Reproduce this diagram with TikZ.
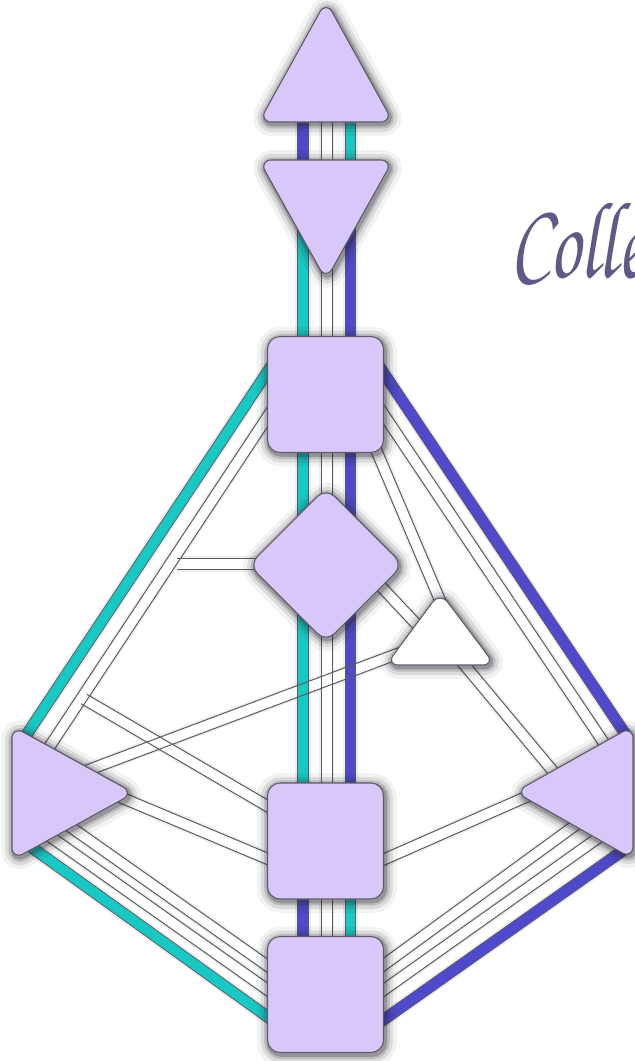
\documentclass[tikz,border=0pt]{standalone}
\usepackage{fontspec}
\usetikzlibrary{calc,shapes.geometric}
\newfontfamily\scriptf{texgyrechorus-mediumitalic.otf}
\definecolor{lav}{HTML}{D8C8F9}
\definecolor{bord}{HTML}{5F5A6A}
\definecolor{tealc}{HTML}{17C8C3}
\definecolor{indc}{HTML}{4F4ACB}
\definecolor{wedgec}{HTML}{5C5C5C}
\definecolor{shadowc}{HTML}{262630}
\definecolor{scriptc}{HTML}{5D5A87}
\def\hw{4.125pt}
\begin{document}
\begin{tikzpicture}[x=0.75pt,y=-0.75pt,
  glow/.style={
    preaction={draw=shadowc, draw opacity=.06, line width=18pt, transform canvas={shift={(1pt,-1.5pt)}}},
    preaction={draw=shadowc, draw opacity=.11, line width=12pt, transform canvas={shift={(1pt,-1.5pt)}}},
    preaction={draw=shadowc, draw opacity=.17, line width=7pt, transform canvas={shift={(1pt,-1.5pt)}}},
    preaction={draw=shadowc, draw opacity=.26, line width=3.5pt, transform canvas={shift={(1pt,-1.5pt)}}}},
  ctr/.style={fill=lav, draw=bord, line width=0.8pt, rounded corners=9.5pt},
  sq/.style={ctr, rectangle, minimum width=87pt, minimum height=87pt, inner sep=0pt},
  dia/.style={ctr, diamond, minimum width=116pt, minimum height=116pt, inner sep=0pt, rounded corners=9pt},
  chglowst/.style={draw=shadowc, draw opacity=.07, line width=11.5pt},
  wband/.style={draw=white, line width=8.25pt},
  wedge/.style={draw=wedgec, line width=0.75pt},
  tch/.style={draw=bord, line width=0.7pt, double=tealc, double distance=7.4pt},
  ich/.style={draw=bord, line width=0.7pt, double=indc, double distance=7.4pt}]
\useasboundingbox (0,0) rectangle (635,1061);
\clip (0,0) rectangle (635,1061);
\fill[white] (0,0) rectangle (635,1061);

% ---- channel end points ----
\coordinate (ha1) at (303,110);   \coordinate (ha2) at (303,170);
\coordinate (ha3) at (326.5,110); \coordinate (ha4) at (326.5,170);
\coordinate (ha5) at (350.5,110); \coordinate (ha6) at (350.5,170);
\coordinate (at1) at (303,225);   \coordinate (at2) at (303,345);
\coordinate (at3) at (326.5,250); \coordinate (at4) at (326.5,345);
\coordinate (at5) at (350.5,225); \coordinate (at6) at (350.5,345);
\coordinate (tg1) at (303,445);   \coordinate (tg2) at (303,530);
\coordinate (tg3) at (326.5,445); \coordinate (tg4) at (326.5,505);
\coordinate (tg5) at (350.5,445); \coordinate (tg6) at (350.5,530);
\coordinate (gs1) at (303,600);   \coordinate (gs2) at (303,790);
\coordinate (gs3) at (326.5,625); \coordinate (gs4) at (326.5,790);
\coordinate (gs5) at (350.5,600); \coordinate (gs6) at (350.5,790);
\coordinate (sr1) at (303,890);   \coordinate (sr2) at (303,942);
\coordinate (sr3) at (326.5,890); \coordinate (sr4) at (326.5,942);
\coordinate (sr5) at (350.5,890); \coordinate (sr6) at (350.5,942);
% left side
\coordinate (tsT1) at (274,362);  \coordinate (tsT2) at (23,740);
\coordinate (tsW1) at (272,410);  \coordinate (tsW2) at (42,758);
\coordinate (gsp1) at (265,564);  \coordinate (gsp2) at (177,564);
\coordinate (sw1) at (84,699);    \coordinate (sw2) at (274,810);
\coordinate (spH1) at (75,775);   \coordinate (spH2) at (405,651);
\coordinate (spS1) at (120,797);  \coordinate (spS2) at (275,862);
\coordinate (spR1) at (20,839);   \coordinate (spR2) at (272,1020);
\coordinate (swrA1) at (45,833);  \coordinate (swrA2) at (272,993);
\coordinate (swrB1) at (62,821);  \coordinate (swrB2) at (272,969);
% right side
\coordinate (tspI1) at (377,363); \coordinate (tspI2) at (628,738);
\coordinate (tspW1) at (378,406); \coordinate (tspW2) at (610,752);
\coordinate (thH1) at (374,445);  \coordinate (thH2) at (442,605);
\coordinate (gH1) at (375,580);   \coordinate (gH2) at (420,628);
\coordinate (hsp1) at (462,662);  \coordinate (hsp2) at (562,782);
\coordinate (spsc1) at (535,793); \coordinate (spsc2) at (378,862);
\coordinate (spRI1) at (628,847); \coordinate (spRI2) at (379,1023);
\coordinate (swrC1) at (605,833); \coordinate (swrC2) at (378,994);
\coordinate (swrD1) at (588,816); \coordinate (swrD2) at (378,969);

\def\whitelist{ha3/ha4,at3/at4,tg3/tg4,gs3/gs4,sr3/sr4,tsW1/tsW2,gsp1/gsp2,sw1/sw2,spH1/spH2,spS1/spS2,swrA1/swrA2,swrB1/swrB2,tspW1/tspW2,thH1/thH2,gH1/gH2,hsp1/hsp2,spsc1/spsc2,swrC1/swrC2,swrD1/swrD2}
\def\teallist{ha5/ha6,at1/at2,tg1/tg2,gs1/gs2,sr5/sr6,tsT1/tsT2,spR1/spR2}
\def\indlist{ha1/ha2,at5/at6,tg5/tg6,gs5/gs6,sr1/sr2,tspI1/tspI2,spRI1/spRI2}

% pass 1: soft glow
\foreach \a/\b in \whitelist {\draw[chglowst] (\a) -- (\b);}
\foreach \a/\b in \teallist {\draw[chglowst] (\a) -- (\b);}
\foreach \a/\b in \indlist {\draw[chglowst] (\a) -- (\b);}
% pass 2: white bands
\foreach \a/\b in \whitelist {\draw[wband] (\a) -- (\b);}
% pass 3: coloured channels
\foreach \a/\b in \teallist {\draw[tch] (\a) -- (\b);}
\foreach \a/\b in \indlist {\draw[ich] (\a) -- (\b);}
% pass 4: edges of white channels
\foreach \a/\b in \whitelist {
  \draw[wedge] ($(\a)!\hw!90:(\b)$) -- ($(\b)!\hw!-90:(\a)$);
  \draw[wedge] ($(\a)!\hw!-90:(\b)$) -- ($(\b)!\hw!90:(\a)$);
}

% ---- centres ----
% head
\coordinate (hdA) at (326,1); \coordinate (hdB) at (259,122); \coordinate (hdC) at (393,122);
\draw[ctr,glow] ($(hdB)!0.5!(hdC)$) -- (hdC) -- (hdA) -- (hdB) -- cycle;
% ajna
\coordinate (ajA) at (259,160); \coordinate (ajB) at (393,160); \coordinate (ajC) at (326,280);
\draw[ctr,glow] ($(ajA)!0.5!(ajB)$) -- (ajB) -- (ajC) -- (ajA) -- cycle;
% throat, G, sacral, root
\node[sq,glow] (throat) at (325.5,394.5) {};
\node[dia,glow] (gctr) at (326,565) {};
\node[sq,glow] (sacral) at (325.5,841) {};
\node[sq,glow] (root) at (325.5,994.5) {};
% heart (white)
\coordinate (htA) at (440,592); \coordinate (htB) at (386,665); \coordinate (htC) at (495,665);
\draw[ctr,glow,fill=white] ($(htB)!0.5!(htC)$) -- (htC) -- (htA) -- (htB) -- cycle;
% spleen
\coordinate (slA) at (12,726); \coordinate (slB) at (12,860); \coordinate (slC) at (134,793);
\draw[ctr,glow] ($(slA)!0.5!(slB)$) -- (slB) -- (slC) -- (slA) -- cycle;
% solar plexus
\coordinate (spA) at (633,726); \coordinate (spB) at (633,859); \coordinate (spC) at (515,792);
\draw[ctr,glow] ($(spA)!0.5!(spB)$) -- (spB) -- (spC) -- (spA) -- cycle;

% ---- title ----
\node[anchor=base west, inner sep=0pt, text=scriptc, xscale=0.7, font=\scriptf\fontsize{82}{82}\selectfont] (title) at (510,277) {Colle};
\end{tikzpicture}
\end{document}
